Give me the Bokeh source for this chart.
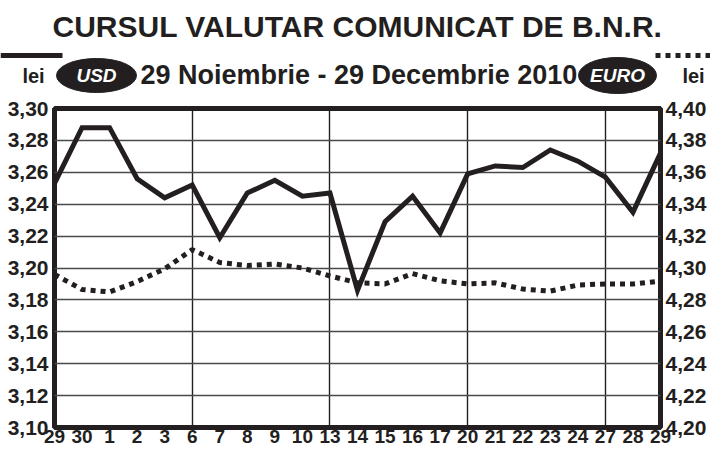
from bokeh.plotting import figure
from bokeh.models import Range1d, LinearAxis, FixedTicker, CustomJSTickFormatter
from bokeh.layouts import column
from bokeh.core.properties import value
from bokeh.embed import file_html
from bokeh.resources import INLINE

# ---- data ----
days = ["29", "30", "1", "2", "3", "6", "7", "8", "9", "10", "13", "14", "15",
        "16", "17", "20", "21", "22", "23", "24", "27", "28", "29"]
usd = [3.253, 3.288, 3.288, 3.256, 3.244, 3.252, 3.219, 3.247, 3.255, 3.245,
       3.247, 3.186, 3.229, 3.245, 3.222, 3.259, 3.264, 3.263, 3.274, 3.267,
       3.257, 3.235, 3.272]
eur = [4.296, 4.2865, 4.285, 4.2915, 4.2995, 4.3115, 4.3035, 4.3015, 4.3025,
       4.300, 4.295, 4.2907, 4.290, 4.2965, 4.292, 4.290, 4.2907, 4.2868,
       4.2855, 4.2893, 4.290, 4.290, 4.2918]
monday_idx = [5, 10, 15, 20]
usd_ticks = [3.10, 3.12, 3.14, 3.16, 3.18, 3.20, 3.22, 3.24, 3.26, 3.28, 3.30]
eur_ticks = [4.20, 4.22, 4.24, 4.26, 4.28, 4.30, 4.32, 4.34, 4.36, 4.38, 4.40]
title = "CURSUL VALUTAR COMUNICAT DE B.N.R."
subtitle = "29 Noiembrie - 29 Decembrie 2010"

FONT = "Liberation Sans"
INK = "#231f20"

x = list(range(len(days)))

# ---- header ----
W = 710
HH = 96
h = figure(width=W, height=HH, x_range=Range1d(0, W), y_range=Range1d(HH, 0),
           toolbar_location=None, output_backend="svg", min_border=0,
           x_axis_location=None, y_axis_location=None)
h.frame_align = False
h.grid.visible = False
h.outline_line_color = None
h.background_fill_color = "white"
h.border_fill_color = "white"

h.text(x=[357], y=[26], text=[title], text_font=value(FONT),
       text_font_size="30px", text_font_style="bold", text_align="center",
       text_baseline="middle", text_color=INK)
h.line(x=[0, 62], y=[55, 55], line_width=5, line_color=INK)
h.line(x=[655, 710], y=[55, 55], line_width=5, line_color=INK,
       line_dash="5 5")
h.text(x=[33, 693], y=[75, 75], text=["lei", "lei"], text_font=value(FONT),
       text_font_size="20px", text_font_style="bold", text_align="center",
       text_baseline="middle", text_color=INK)
h.ellipse(x=[96, 617], y=[75, 75], width=[80, 78], height=[34, 36],
          fill_color=INK, line_color=INK)
h.text(x=[96, 617], y=[75, 75], text=["USD", "EURO"], text_font=value(FONT),
       text_font_size="19px", text_font_style="bold italic", text_align="center",
       text_baseline="middle", text_color="white")
h.text(x=[140], y=[74], text=[subtitle], text_font=value(FONT),
       text_font_size="27px", text_font_style="bold", text_align="left",
       text_baseline="middle", text_color=INK)

# ---- main chart ----
p = figure(frame_width=606, frame_height=319, x_range=Range1d(0, len(days) - 1),
           y_range=Range1d(usd_ticks[0], usd_ticks[-1]),
           toolbar_location=None, output_backend="svg",
           min_border_left=54, min_border_right=50, min_border_top=12,
           min_border_bottom=0)
p.frame_align = False
p.extra_y_ranges = {"eur": Range1d(eur_ticks[0], eur_ticks[-1])}
right = LinearAxis(y_range_name="eur")
p.add_layout(right, "right")

fmt = "return tick.toFixed(2).replace('.', ',');"
p.yaxis[0].ticker = FixedTicker(ticks=usd_ticks)
p.yaxis[0].formatter = CustomJSTickFormatter(code=fmt)
right.ticker = FixedTicker(ticks=eur_ticks)
right.formatter = CustomJSTickFormatter(code=fmt)
p.xaxis.ticker = FixedTicker(ticks=x)
p.xaxis.major_label_overrides = {i: d for i, d in enumerate(days)}

for ax in [p.xaxis[0], p.yaxis[0], right]:
    ax.axis_line_color = None
    ax.major_tick_line_color = None
    ax.minor_tick_line_color = None
    ax.major_tick_out = 0
    ax.major_tick_in = 0
    ax.minor_tick_out = 0
    ax.minor_tick_in = 0
    ax.major_label_text_font = FONT
    ax.major_label_text_font_style = "bold"
    ax.major_label_text_color = INK
p.yaxis[0].major_label_text_font_size = "21px"
right.major_label_text_font_size = "21px"
p.yaxis[0].major_label_standoff = 6
right.major_label_standoff = 5
p.xaxis[0].major_label_text_font_size = "19px"
p.xaxis[0].major_label_standoff = 2

p.xgrid.ticker = FixedTicker(ticks=monday_idx)
p.xgrid.grid_line_color = INK
p.xgrid.grid_line_width = 1.4
p.ygrid.ticker = FixedTicker(ticks=usd_ticks)
p.ygrid.grid_line_color = "#4a4a4a"
p.ygrid.grid_line_width = 1.6

p.outline_line_color = INK
p.outline_line_width = 5
p.background_fill_color = "white"
p.border_fill_color = "white"

p.line(x, usd, line_width=5, line_color=INK, line_join="miter")
p.line(x, eur, y_range_name="eur", line_width=5, line_color=INK,
       line_dash="5 5")

layout = column(h, p)
open("out.html", "w").write(file_html(layout, INLINE))
